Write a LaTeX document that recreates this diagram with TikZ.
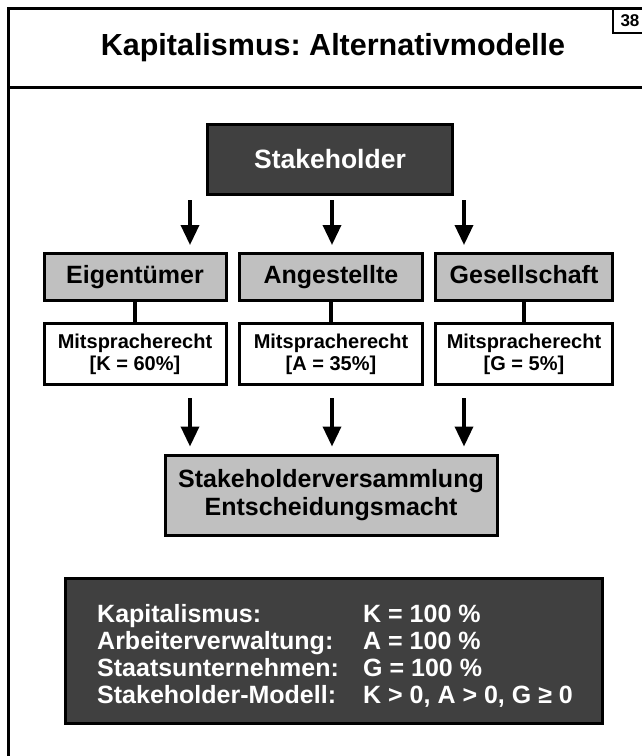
\documentclass[tikz,border=0pt]{standalone}
\usepackage{fontspec}
\setmainfont{Liberation Sans}
\usetikzlibrary{arrows.meta}

\definecolor{boxdark}{HTML}{404040}
\definecolor{boxgray}{HTML}{C0C0C0}

\tikzset{
  frame/.style={line width=3pt},
  darkbox/.style={draw=black, line width=3pt, fill=boxdark, text=white, inner sep=0pt},
  graybox/.style={draw=black, line width=3pt, fill=boxgray, inner sep=0pt,
    font=\fontsize{25}{28}\selectfont\bfseries},
  group/.style={graybox, minimum height=47, text height=18pt, text depth=5pt},
  whitebox/.style={draw=black, line width=3pt, fill=white, inner sep=0pt, align=center,
    minimum height=61, font=\fontsize{20}{22}\selectfont\bfseries},
  link/.style={line width=3.5pt},
  arr/.style={line width=3.5pt, -{Triangle[length=20pt,width=18pt]}},
}

\begin{document}
\frenchspacing
\begin{tikzpicture}[x=1pt,y=-1pt]
\useasboundingbox (0,0) rectangle (642,756);
% frame and title band
\draw[frame] (8,770) -- (8,8) -- (660,8);
\draw[frame] (8,87) -- (660,87);
\node[font=\fontsize{30.5}{34}\selectfont\bfseries] (title) at (333,48) {Kapitalismus: Alternativmodelle};
\node[draw=black, line width=2pt, minimum width=40, minimum height=25, inner sep=0pt] (page) at (633,20) {};
\node[font=\fontsize{17}{20}\selectfont\bfseries, anchor=west] (pagenr) at (617,21) {38};

% stakeholder and groups
\node[darkbox, minimum width=245, minimum height=70, font=\fontsize{26.5}{30}\selectfont\bfseries] (stake) at (330,159) {Stakeholder};
\node[group, minimum width=182] (eig) at (135,277) {Eigentümer};
\node[group, minimum width=183] (ang) at (331,277) {Angestellte};
\node[group, minimum width=177] (ges) at (524,277) {Gesellschaft};
\node[whitebox, minimum width=182] (meig) at (135,354) {Mitspracherecht\\{}[K = 60\%]};
\node[whitebox, minimum width=183] (mang) at (331,354) {Mitspracherecht\\{}[A = 35\%]};
\node[whitebox, minimum width=177] (mges) at (524,354) {Mitspracherecht\\{}[G = 5\%]};
\draw[link] (eig) -- (meig);
\draw[link] (ang) -- (mang);
\draw[link] (ges) -- (mges);

\node[graybox, minimum width=332, minimum height=80, align=center] (vers) at (331,495) {Stakeholderversammlung\\Entscheidungsmacht};

% arrows
\coordinate (t1) at (190,200);
\coordinate (t2) at (332,200);
\coordinate (t3) at (464,200);
\draw[arr] (t1) -- ([yshift=7pt]t1 |- eig.north);
\draw[arr] (t2) -- ([yshift=7pt]t2 |- ang.north);
\draw[arr] (t3) -- ([yshift=7pt]t3 |- ges.north);
\coordinate (b1) at (190,398);
\coordinate (b2) at (332,398);
\coordinate (b3) at (464,398);
\draw[arr] (b1) -- ([yshift=7pt]b1 |- vers.north);
\draw[arr] (b2) -- ([yshift=7pt]b2 |- vers.north);
\draw[arr] (b3) -- ([yshift=7pt]b3 |- vers.north);

% models
\node[darkbox, minimum width=537, minimum height=145] (models) at (333.5,650.5) {};
\node[anchor=north west, text=white, inner sep=0pt, font=\fontsize{25}{27}\selectfont\bfseries] (modeltext) at (97,603)
  {\begin{tabular}{@{}p{266pt}@{}l@{}}
   Kapitalismus: & K = 100 \% \\
   Arbeiterverwaltung: & A = 100 \% \\
   Staatsunternehmen: & G = 100 \% \\
   Stakeholder-Modell: & K > 0, A > 0, G ≥ 0
   \end{tabular}};
\end{tikzpicture}
\end{document}
